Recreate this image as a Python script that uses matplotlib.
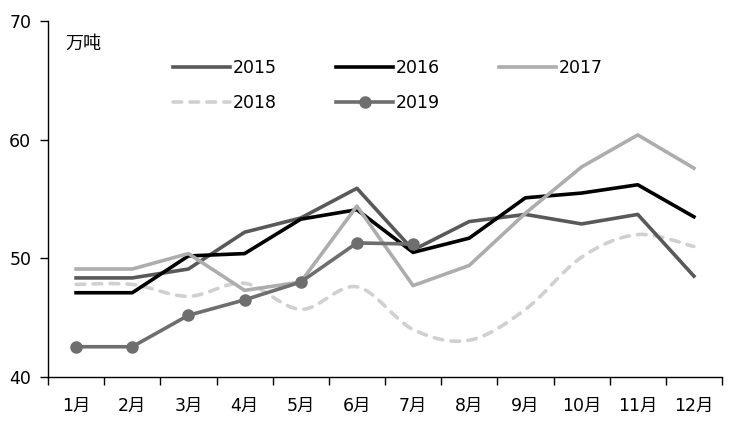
import matplotlib
matplotlib.use("Agg")
import matplotlib.pyplot as plt
from matplotlib.path import Path
from matplotlib.patches import PathPatch
from matplotlib.lines import Line2D
import numpy as np

plt.rcParams['font.family'] = ['DejaVu Sans', 'Noto Sans CJK SC']

months = ["1月", "2月", "3月", "4月", "5月", "6月", "7月", "8月", "9月", "10月", "11月", "12月"]
y2015 = [48.35, 48.35, 49.1, 52.2, 53.4, 55.9, 50.7, 53.1, 53.7, 52.9, 53.7, 48.5]
y2016 = [47.1, 47.1, 50.2, 50.4, 53.3, 54.1, 50.5, 51.7, 55.1, 55.5, 56.2, 53.5]
y2017 = [49.1, 49.1, 50.4, 47.3, 48.0, 54.4, 47.7, 49.4, 53.8, 57.7, 60.4, 57.6]
y2018 = [47.8, 47.8, 46.8, 47.9, 45.7, 47.6, 44.0, 43.1, 45.7, 50.1, 52.0, 51.0]
y2019 = [42.55, 42.55, 45.2, 46.5, 48.0, 51.3, 51.2]
yticks = [40, 50, 60, 70]

fig = plt.figure(figsize=(7.29, 4.22), dpi=100)
ax = fig.add_axes([48/729, 1-377/422, (722-48)/729, (377-21)/422])

x = np.arange(len(months))
lw = 2.6
dash = (0, (2.4, 2.3))
h15, = ax.plot(x, y2015, color='#595959', lw=lw, label='2015')
h16, = ax.plot(x, y2016, color='#000000', lw=lw, label='2016')
h17, = ax.plot(x, y2017, color='#adadad', lw=lw, label='2017')

# 2018: smoothed line (Catmull-Rom -> cubic Bezier), drawn through data coordinates
px = np.array(x, dtype=float)
py = np.array(y2018, dtype=float)
verts = [(px[0], py[0])]
codes = [Path.MOVETO]
n = len(px)
for i in range(n - 1):
    p0 = (px[max(i - 1, 0)], py[max(i - 1, 0)])
    p1 = (px[i], py[i])
    p2 = (px[i + 1], py[i + 1])
    p3 = (px[min(i + 2, n - 1)], py[min(i + 2, n - 1)])
    c1 = (p1[0] + (p2[0] - p0[0]) / 6, p1[1] + (p2[1] - p0[1]) / 6)
    c2 = (p2[0] - (p3[0] - p1[0]) / 6, p2[1] - (p3[1] - p1[1]) / 6)
    verts += [c1, c2, p2]
    codes += [Path.CURVE4] * 3
patch = PathPatch(Path(verts, codes), facecolor='none', edgecolor='#d0d0d0', lw=lw,
                  linestyle=dash, capstyle='round')
ax.add_patch(patch)
h18 = Line2D([], [], color='#d0d0d0', lw=lw, linestyle=dash, dash_capstyle='round', label='2018')

h19, = ax.plot(x[:len(y2019)], y2019, color='#6e6e6e', lw=lw, marker='o', ms=8,
               markerfacecolor='#6e6e6e', markeredgecolor='#6e6e6e', label='2019')

ax.set_xlim(-0.5, len(months) - 0.5)
ax.set_ylim(40, 70)
ax.set_yticks(yticks)
ax.set_yticklabels([str(t) for t in yticks], fontsize=12.5)
ax.set_xticks(x)
ax.set_xticklabels(months, fontsize=12.5)
ax.set_xticks(np.arange(len(months) + 1) - 0.5, minor=True)
ax.tick_params(axis='x', which='major', length=0, pad=14)
ax.tick_params(axis='x', which='minor', length=6, width=1, direction='out', color='black')
ax.tick_params(axis='y', length=6, width=1, direction='out', pad=6)
for s in ['top', 'right']:
    ax.spines[s].set_visible(False)
for s in ['left', 'bottom']:
    ax.spines[s].set_color('black')
    ax.spines[s].set_linewidth(1)

fig.text(65/729, 1-44/422, "万吨", fontsize=13, va='center', ha='left')

handles = [h15, h18, h16, h19, h17]
labels = [h.get_label() for h in handles]
leg = fig.legend(handles, labels, ncol=3, loc='upper left', bbox_to_anchor=(173/729, 1-59/422),
                 frameon=False, fontsize=12.5, handlelength=3.3, handletextpad=0.15,
                 columnspacing=3.4, labelspacing=1.0, borderaxespad=0, borderpad=0)

fig.savefig("out.png", dpi=100)
